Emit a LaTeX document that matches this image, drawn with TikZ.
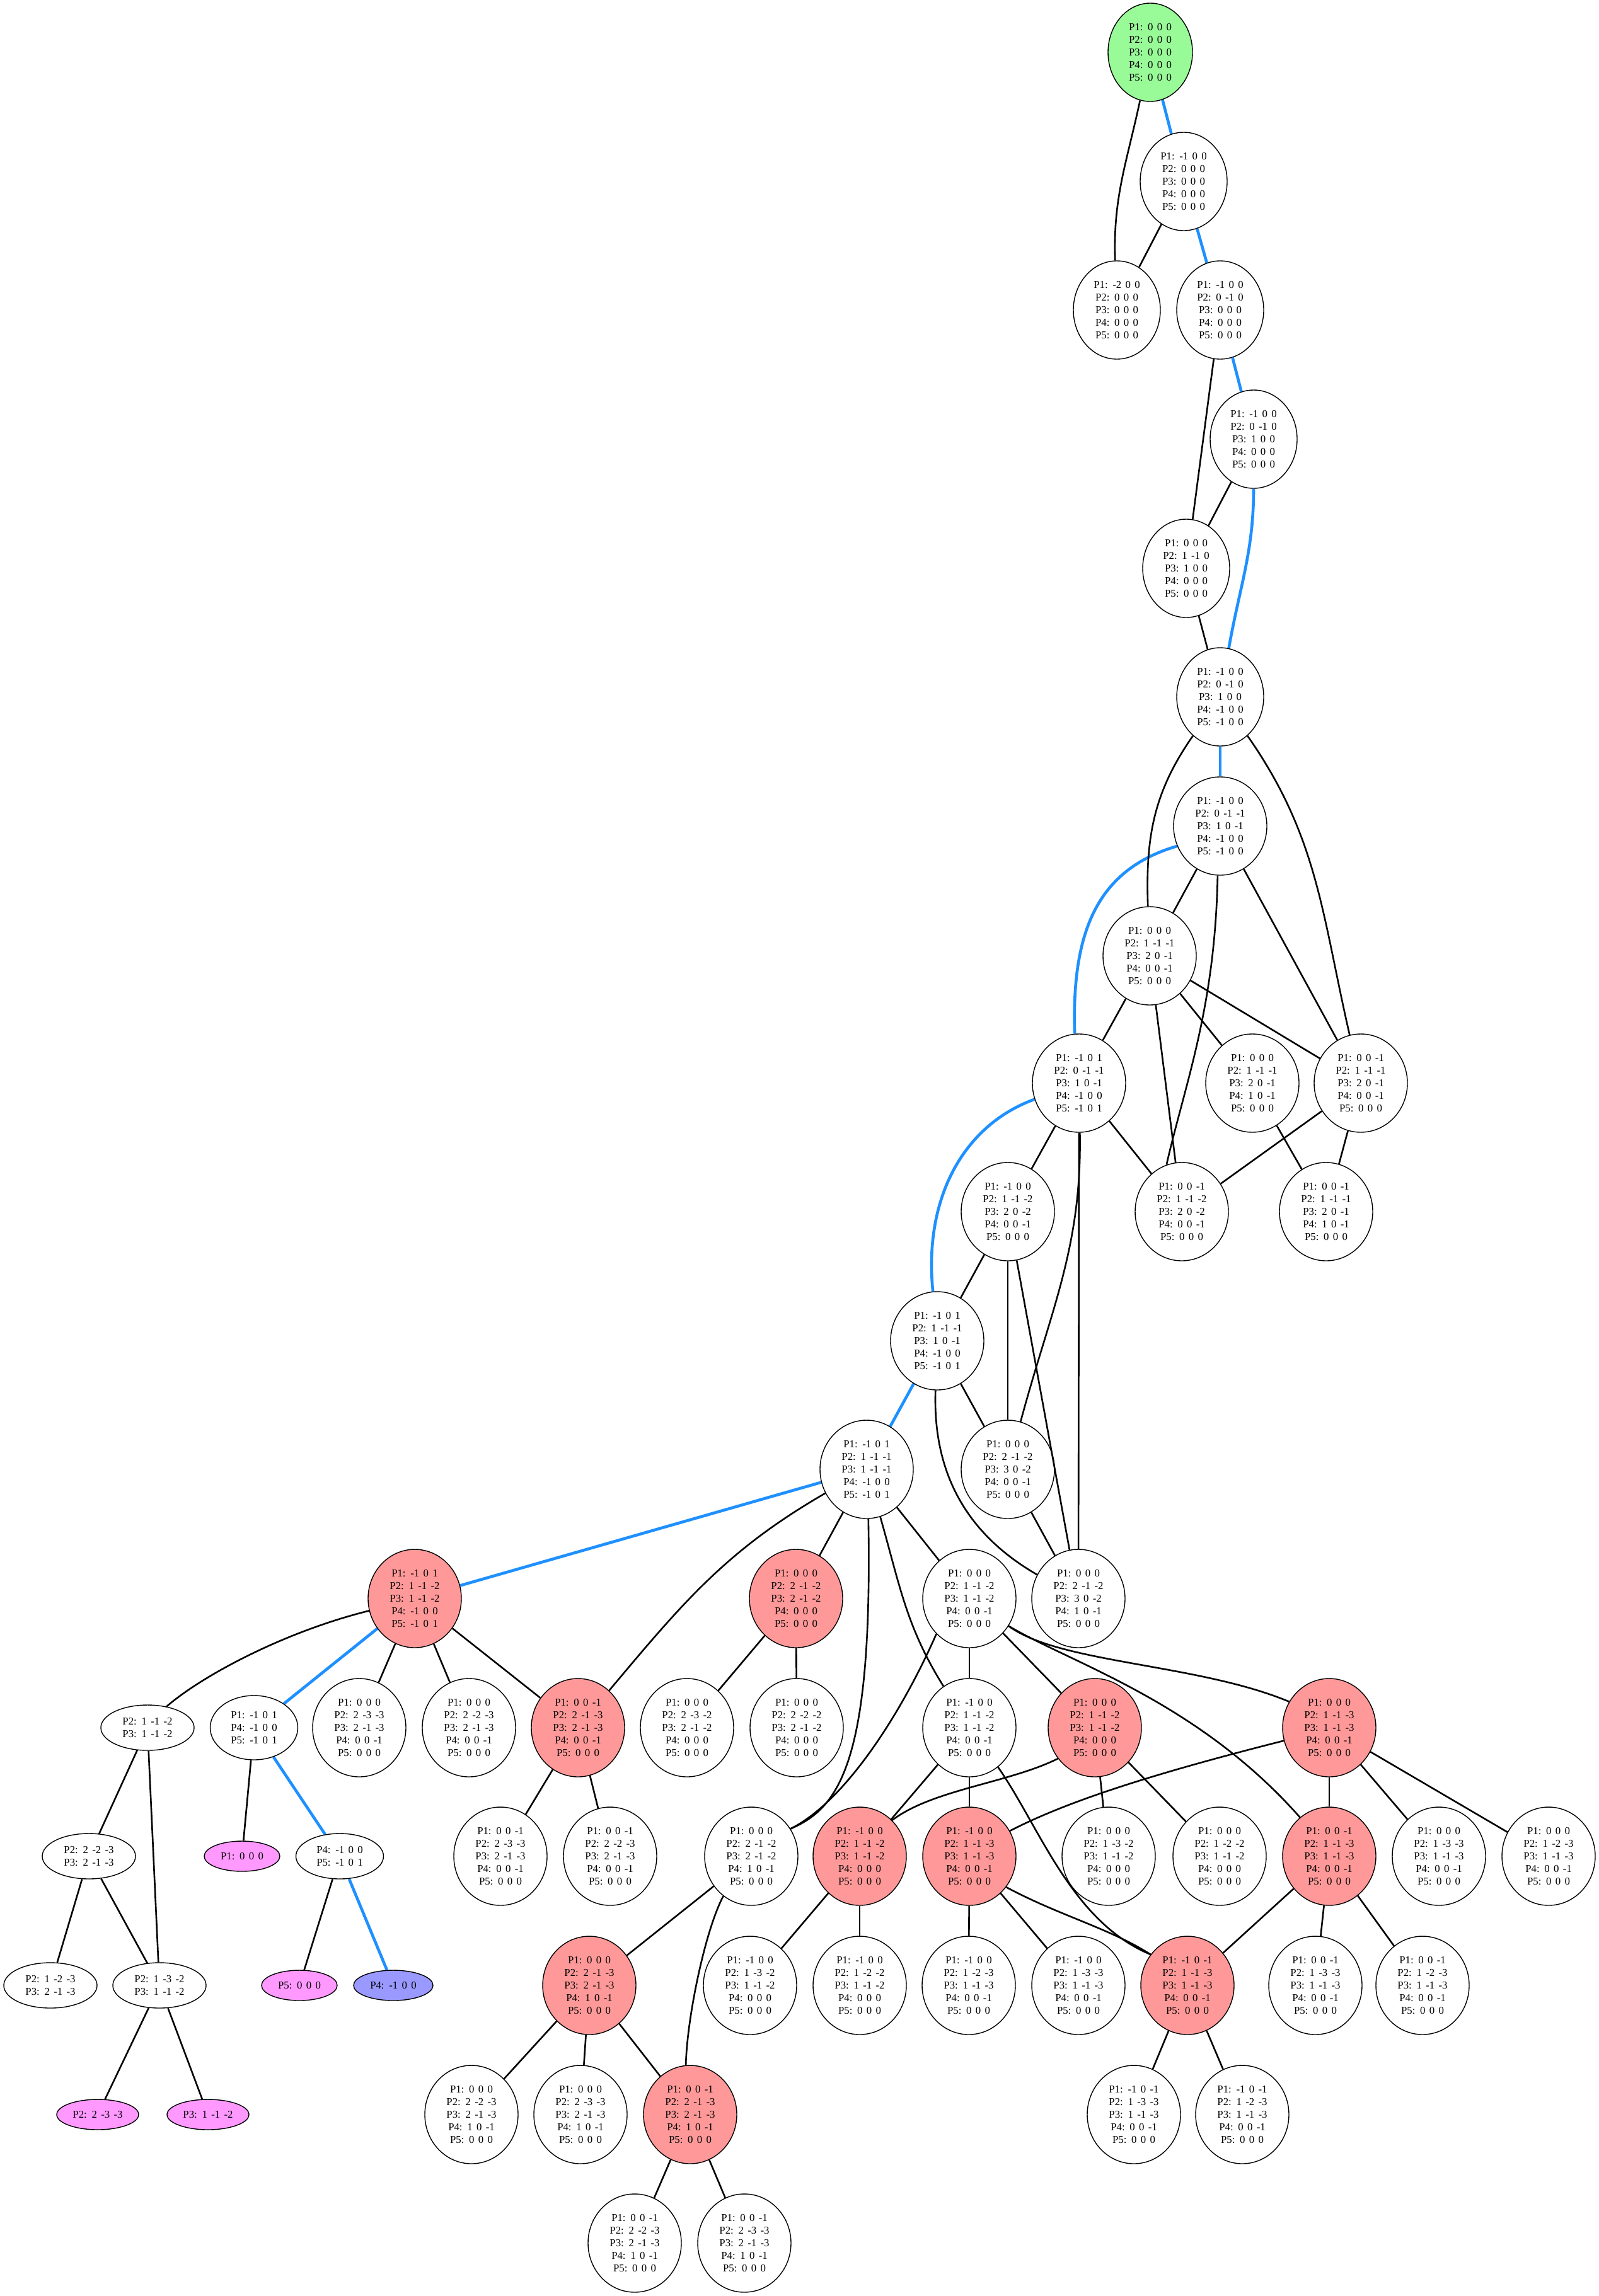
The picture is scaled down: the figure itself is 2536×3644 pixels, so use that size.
\documentclass[tikz,border=0pt]{standalone}
\usepackage{fontspec}
\setmainfont{Liberation Serif}[WordSpace=1.5]
\usetikzlibrary{shapes.geometric}
\definecolor{ngreen}{RGB}{152,251,152}
\definecolor{nred}{RGB}{255,153,153}
\definecolor{nmag}{RGB}{255,153,255}
\definecolor{nblue}{RGB}{153,153,255}
\definecolor{eblue}{RGB}{30,144,255}
\pgfdeclarelayer{back}
\pgfdeclarelayer{edges}
\pgfsetlayers{back,edges,main}
\newcommand\pvals[5]{P1: #1\\P2: #2\\P3: #3\\P4: #4\\P5: #5}
\begin{document}
\begin{tikzpicture}[x=1pt,y=1pt,
  st/.style={ellipse, draw, line width=1.4pt, inner sep=0pt, align=center, font=\fontsize{16.8}{20}\selectfont},
  five/.style={st, minimum width=148pt, minimum height=156pt},
  fivea/.style={st, minimum width=138pt, minimum height=156pt},
  three/.style={st, minimum width=139pt, minimum height=102pt},
  two/.style={st, minimum width=148pt, minimum height=72pt},
  one/.style={st, minimum width=120pt, minimum height=48pt},
  rd/.style={fill=nred},
  mg/.style={fill=nmag},
  edg/.style={line width=2.6pt, black},
  bedg/.style={line width=4.6pt, eblue}]
\useasboundingbox (0,0) rectangle (2536,-3644);
\begin{pgfonlayer}{back}
\fill[white] (0,0) rectangle (2536,-3644);
\end{pgfonlayer}

\node[fivea, fill=ngreen, minimum width=134pt] (n1) at (1825,-83) {\pvals{0 0 0}{0 0 0}{0 0 0}{0 0 0}{0 0 0}};
\node[fivea] (n2) at (1878,-288) {\pvals{-1 0 0}{0 0 0}{0 0 0}{0 0 0}{0 0 0}};
\node[fivea] (n3) at (1772,-492) {\pvals{-2 0 0}{0 0 0}{0 0 0}{0 0 0}{0 0 0}};
\node[fivea] (n4) at (1936,-492) {\pvals{-1 0 0}{0 -1 0}{0 0 0}{0 0 0}{0 0 0}};
\node[fivea] (n5) at (1989,-697) {\pvals{-1 0 0}{0 -1 0}{1 0 0}{0 0 0}{0 0 0}};
\node[fivea] (n6) at (1882,-902) {\pvals{0 0 0}{1 -1 0}{1 0 0}{0 0 0}{0 0 0}};
\node[fivea] (n7) at (1936,-1106) {\pvals{-1 0 0}{0 -1 0}{1 0 0}{-1 0 0}{-1 0 0}};
\node[five] (n8) at (1936,-1311) {\pvals{-1 0 0}{0 -1 -1}{1 0 -1}{-1 0 0}{-1 0 0}};
\node[five] (n9) at (1824,-1517) {\pvals{0 0 0}{1 -1 -1}{2 0 -1}{0 0 -1}{0 0 0}};
\node[five] (n10) at (1712,-1719) {\pvals{-1 0 1}{0 -1 -1}{1 0 -1}{-1 0 0}{-1 0 1}};
\node[five] (n11) at (1987,-1719) {\pvals{0 0 0}{1 -1 -1}{2 0 -1}{1 0 -1}{0 0 0}};
\node[five] (n12) at (2159,-1719) {\pvals{0 0 -1}{1 -1 -1}{2 0 -1}{0 0 -1}{0 0 0}};
\node[five] (n13) at (1599,-1923) {\pvals{-1 0 0}{1 -1 -2}{2 0 -2}{0 0 -1}{0 0 0}};
\node[five] (n14) at (1875,-1923) {\pvals{0 0 -1}{1 -1 -2}{2 0 -2}{0 0 -1}{0 0 0}};
\node[five] (n15) at (2104,-1923) {\pvals{0 0 -1}{1 -1 -1}{2 0 -1}{1 0 -1}{0 0 0}};
\node[five] (n16) at (1487,-2128) {\pvals{-1 0 1}{1 -1 -1}{1 0 -1}{-1 0 0}{-1 0 1}};
\node[five] (n17) at (1599,-2332) {\pvals{0 0 0}{2 -1 -2}{3 0 -2}{0 0 -1}{0 0 0}};
\node[five] (n18) at (1375,-2332) {\pvals{-1 0 1}{1 -1 -1}{1 -1 -1}{-1 0 0}{-1 0 1}};
\node[five] (n19) at (1711,-2537) {\pvals{0 0 0}{2 -1 -2}{3 0 -2}{1 0 -1}{0 0 0}};
\node[five, rd] (n20) at (658,-2537) {\pvals{-1 0 1}{1 -1 -2}{1 -1 -2}{-1 0 0}{-1 0 1}};
\node[five, rd] (n21) at (1263,-2537) {\pvals{0 0 0}{2 -1 -2}{2 -1 -2}{0 0 0}{0 0 0}};
\node[five] (n22) at (1538,-2537) {\pvals{0 0 0}{1 -1 -2}{1 -1 -2}{0 0 -1}{0 0 0}};
\node[two] (n23) at (234,-2742) {P2: 1 -1 -2\\P3: 1 -1 -2};
\node[three] (n24) at (403,-2742) {P1: -1 0 1\\P4: -1 0 0\\P5: -1 0 1};
\node[five] (n25) at (570,-2742) {\pvals{0 0 0}{2 -3 -3}{2 -1 -3}{0 0 -1}{0 0 0}};
\node[five] (n26) at (744,-2742) {\pvals{0 0 0}{2 -2 -3}{2 -1 -3}{0 0 -1}{0 0 0}};
\node[five, rd] (n27) at (917,-2742) {\pvals{0 0 -1}{2 -1 -3}{2 -1 -3}{0 0 -1}{0 0 0}};
\node[five] (n28) at (1090,-2742) {\pvals{0 0 0}{2 -3 -2}{2 -1 -2}{0 0 0}{0 0 0}};
\node[five] (n29) at (1264,-2742) {\pvals{0 0 0}{2 -2 -2}{2 -1 -2}{0 0 0}{0 0 0}};
\node[five] (n30) at (1538,-2742) {\pvals{-1 0 0}{1 -1 -2}{1 -1 -2}{0 0 -1}{0 0 0}};
\node[five, rd] (n31) at (1737,-2742) {\pvals{0 0 0}{1 -1 -2}{1 -1 -2}{0 0 0}{0 0 0}};
\node[five, rd] (n32) at (2109,-2742) {\pvals{0 0 0}{1 -1 -3}{1 -1 -3}{0 0 -1}{0 0 0}};
\node[two] (n33) at (141,-2946) {P2: 2 -2 -3\\P3: 2 -1 -3};
\node[one, mg] (n34) at (384,-2946) {P1: 0 0 0};
\node[two, minimum width=139pt] (n35) at (539,-2946) {P4: -1 0 0\\P5: -1 0 1};
\node[five] (n40) at (794,-2946) {\pvals{0 0 -1}{2 -3 -3}{2 -1 -3}{0 0 -1}{0 0 0}};
\node[five] (n41) at (968,-2946) {\pvals{0 0 -1}{2 -2 -3}{2 -1 -3}{0 0 -1}{0 0 0}};
\node[five] (n36) at (1192,-2946) {\pvals{0 0 0}{2 -1 -2}{2 -1 -2}{1 0 -1}{0 0 0}};
\node[five, rd] (n37) at (1364,-2946) {\pvals{-1 0 0}{1 -1 -2}{1 -1 -2}{0 0 0}{0 0 0}};
\node[five, rd] (n38) at (1538,-2946) {\pvals{-1 0 0}{1 -1 -3}{1 -1 -3}{0 0 -1}{0 0 0}};
\node[five] (n42) at (1759,-2946) {\pvals{0 0 0}{1 -3 -2}{1 -1 -2}{0 0 0}{0 0 0}};
\node[five] (n43) at (1935,-2946) {\pvals{0 0 0}{1 -2 -2}{1 -1 -2}{0 0 0}{0 0 0}};
\node[five, rd] (n39) at (2109,-2946) {\pvals{0 0 -1}{1 -1 -3}{1 -1 -3}{0 0 -1}{0 0 0}};
\node[five] (n44) at (2283,-2946) {\pvals{0 0 0}{1 -3 -3}{1 -1 -3}{0 0 -1}{0 0 0}};
\node[five] (n45) at (2457,-2946) {\pvals{0 0 0}{1 -2 -3}{1 -1 -3}{0 0 -1}{0 0 0}};
\node[two] (n46) at (80,-3151) {P2: 1 -2 -3\\P3: 2 -1 -3};
\node[two] (n47) at (253,-3151) {P2: 1 -3 -2\\P3: 1 -1 -2};
\node[one, mg] (n48) at (475,-3151) {P5: 0 0 0};
\node[one, fill=nblue, minimum width=126pt] (n49) at (624,-3151) {P4: -1 0 0};
\node[five, rd] (n50) at (935,-3151) {\pvals{0 0 0}{2 -1 -3}{2 -1 -3}{1 0 -1}{0 0 0}};
\node[five] (n51) at (1190,-3151) {\pvals{-1 0 0}{1 -3 -2}{1 -1 -2}{0 0 0}{0 0 0}};
\node[five] (n52) at (1364,-3151) {\pvals{-1 0 0}{1 -2 -2}{1 -1 -2}{0 0 0}{0 0 0}};
\node[five] (n53) at (1537,-3151) {\pvals{-1 0 0}{1 -2 -3}{1 -1 -3}{0 0 -1}{0 0 0}};
\node[five] (n54) at (1711,-3151) {\pvals{-1 0 0}{1 -3 -3}{1 -1 -3}{0 0 -1}{0 0 0}};
\node[five, rd] (n55) at (1884,-3151) {\pvals{-1 0 -1}{1 -1 -3}{1 -1 -3}{0 0 -1}{0 0 0}};
\node[five] (n56) at (2087,-3151) {\pvals{0 0 -1}{1 -3 -3}{1 -1 -3}{0 0 -1}{0 0 0}};
\node[five] (n57) at (2257,-3151) {\pvals{0 0 -1}{1 -2 -3}{1 -1 -3}{0 0 -1}{0 0 0}};
\node[one, mg, minimum width=130pt] (n58) at (155,-3356) {P2: 2 -3 -3};
\node[one, mg, minimum width=130pt] (n59) at (330,-3356) {P3: 1 -1 -2};
\node[five] (n60) at (748,-3356) {\pvals{0 0 0}{2 -2 -3}{2 -1 -3}{1 0 -1}{0 0 0}};
\node[five] (n61) at (921,-3356) {\pvals{0 0 0}{2 -3 -3}{2 -1 -3}{1 0 -1}{0 0 0}};
\node[five, rd] (n62) at (1095,-3356) {\pvals{0 0 -1}{2 -1 -3}{2 -1 -3}{1 0 -1}{0 0 0}};
\node[five] (n63) at (1799,-3356) {\pvals{-1 0 -1}{1 -3 -3}{1 -1 -3}{0 0 -1}{0 0 0}};
\node[five] (n64) at (1971,-3356) {\pvals{-1 0 -1}{1 -2 -3}{1 -1 -3}{0 0 -1}{0 0 0}};
\node[five] (n65) at (1007,-3560) {\pvals{0 0 -1}{2 -2 -3}{2 -1 -3}{1 0 -1}{0 0 0}};
\node[five] (n66) at (1181,-3560) {\pvals{0 0 -1}{2 -3 -3}{2 -1 -3}{1 0 -1}{0 0 0}};

\begin{pgfonlayer}{edges}
% solution path
\draw[bedg] (n1) -- (n2);
\draw[bedg] (n2) -- (n4);
\draw[bedg] (n4) -- (n5);
\draw[bedg] (n5) to[out=-90,in=80] (n7);
\draw[bedg] (n7) -- (n8);
\draw[bedg] (n8.205) .. controls (1740,-1380) and (1700,-1480) .. (n10.95);
\draw[bedg] (n10.200) .. controls (1530,-1785) and (1465,-1900) .. (n16.95);
\draw[bedg] (n16) -- (n18);
\draw[bedg] (n18) -- (n20);
\draw[bedg] (n20) -- (n24);
\draw[bedg] (n24) -- (n35);
\draw[bedg] (n35) -- (n49);
% other edges
\draw[edg] (n1) to[out=-102,in=92] (n3);
\draw[edg] (n2) -- (n3);
\draw[edg] (n4) -- (n6);
\draw[edg] (n5) -- (n6);
\draw[edg] (n6) -- (n7);
\draw[edg] (n7) to[out=-125,in=92] (n9);
\draw[edg] (n7) to[out=-55,in=103] (n12);
\draw[edg] (n8) -- (n9);
\draw[edg] (n8) -- (n12);
\draw[edg] (n8.-93) .. controls (1928,-1600) and (1880,-1720) .. (n14.108);
\draw[edg] (n9) -- (n10);
\draw[edg] (n9) -- (n11);
\draw[edg] (n9) -- (n12);
\draw[edg] (n9) -- (n14);
\draw[edg] (n10) -- (n13);
\draw[edg] (n10) -- (n14);
\draw[edg] (n10) to[out=-89,in=75] (n17);
\draw[edg] (n10) -- (n19);
\draw[edg] (n11) -- (n15);
\draw[edg] (n12) -- (n14);
\draw[edg] (n12) -- (n15);
\draw[edg] (n13) -- (n16);
\draw[edg] (n13) -- (n17);
\draw[edg] (n13) -- (n19);
\draw[edg] (n16) -- (n17);
\draw[edg] (n16) to[out=-92,in=150] (n19);
\draw[edg] (n17) -- (n19);
\draw[edg] (n18) -- (n21);
\draw[edg] (n18) -- (n22);
\draw[edg] (n18) to[out=210,in=50] (n27);
\draw[edg] (n18) to[out=-74,in=122] (n30);
\draw[edg] (n18.-88) .. controls (1385,-2800) and (1330,-2870) .. (n36.35);
\draw[edg] (n22.227) .. controls (1430,-2720) and (1340,-2860) .. (n36.35);
\draw[edg] (n20.195) .. controls (450,-2590) and (320,-2660) .. (n23.48);
\draw[edg] (n20) -- (n25);
\draw[edg] (n20) -- (n26);
\draw[edg] (n20) -- (n27);
\draw[edg] (n21) -- (n28);
\draw[edg] (n21) -- (n29);
\draw[edg] (n22) -- (n30);
\draw[edg] (n22) -- (n31);
\draw[edg] (n22.-35) .. controls (1680,-2640) and (1900,-2640) .. (n32.147);
\draw[edg] (n22.-35) .. controls (1700,-2640) and (1900,-2700) .. (n39.127);
\draw[edg] (n23) -- (n33);
\draw[edg] (n23) -- (n47);
\draw[edg] (n24) -- (n34);
\draw[edg] (n27) -- (n40);
\draw[edg] (n27) -- (n41);
\draw[edg] (n30) -- (n37);
\draw[edg] (n30) -- (n38);
\draw[edg] (n30.-54) .. controls (1650,-2900) and (1700,-3050) .. (n55.140);
\draw[edg] (n31.220) .. controls (1600,-2830) and (1480,-2840) .. (n37.48);
\draw[edg] (n31) -- (n42);
\draw[edg] (n31) -- (n43);
\draw[edg] (n32.196) .. controls (1850,-2810) and (1700,-2855) .. (n38.32);
\draw[edg] (n32) -- (n39);
\draw[edg] (n32) -- (n44);
\draw[edg] (n32) -- (n45);
\draw[edg] (n33) -- (n46);
\draw[edg] (n33) -- (n47);
\draw[edg] (n35) -- (n48);
\draw[edg] (n36) -- (n50);
\draw[edg] (n36.-125) .. controls (1120,-3060) and (1090,-3200) .. (n62.95);
\draw[edg] (n37) -- (n51);
\draw[edg] (n37) -- (n52);
\draw[edg] (n38) -- (n53);
\draw[edg] (n38) -- (n54);
\draw[edg] (n38.-40) .. controls (1680,-3040) and (1760,-3060) .. (n55.140);
\draw[edg] (n39) -- (n55);
\draw[edg] (n39) -- (n56);
\draw[edg] (n39) -- (n57);
\draw[edg] (n47) -- (n58);
\draw[edg] (n47) -- (n59);
\draw[edg] (n50) -- (n60);
\draw[edg] (n50) -- (n61);
\draw[edg] (n50) -- (n62);
\draw[edg] (n55) -- (n63);
\draw[edg] (n55) -- (n64);
\draw[edg] (n62) -- (n65);
\draw[edg] (n62) -- (n66);
\end{pgfonlayer}
\end{tikzpicture}
\end{document}
